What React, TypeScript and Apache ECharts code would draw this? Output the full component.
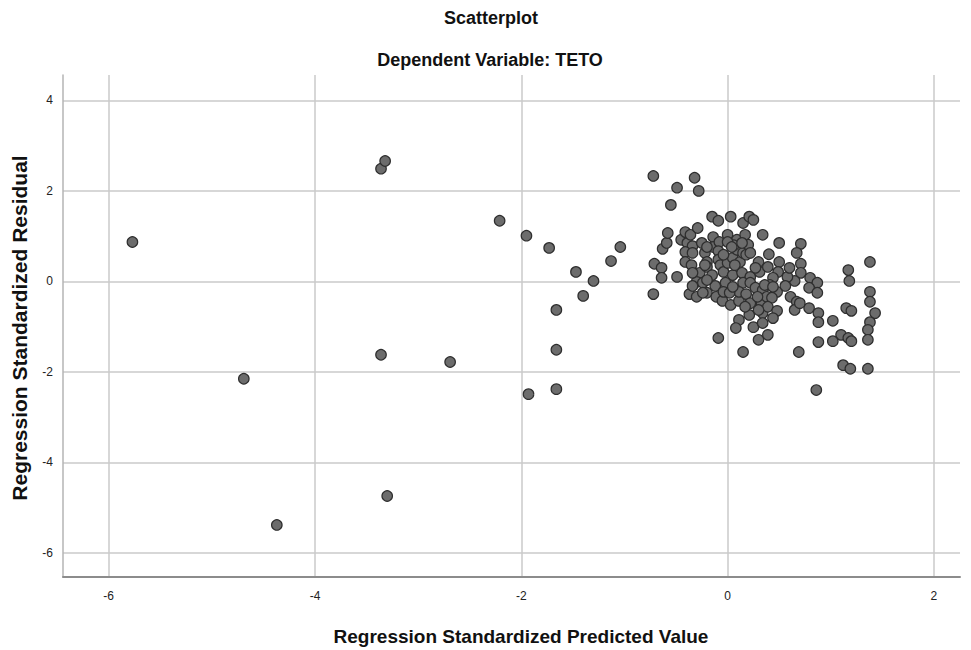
import React, { useEffect, useRef } from "react";
import * as echarts from "echarts";

const chartTitle = "Scatterplot";
const chartSubtitle = "Dependent Variable: TETO";
const xAxisTitle = "Regression Standardized Predicted Value";
const yAxisTitle = "Regression Standardized Residual";

// Regression standardized predicted values (x)
const predicted: number[] = [
  -5.77, -4.69, -4.37, -3.36, -3.32, -3.36, -3.30, -2.69, -2.21, -1.95,
  -1.93, -1.73, -1.66, -1.66, -1.66, -1.47, -1.40, -1.30, -1.13, -1.04,
  -0.72, -0.32, -0.49, -0.28, -0.55, -0.71, -0.72, -0.64, -0.64, -0.63,
  -0.59, -0.58, -0.49, -0.45, -0.41, -0.39, -0.36, -0.34, -0.41, -0.34,
  -0.41, -0.35, -0.29, -0.27, -0.22, -0.20, -0.20, -0.15, -0.09, -0.14,
  -0.14, -0.08, -0.09, -0.09, -0.07, -0.15, -0.04, 0.00, 0.03, 0.00,
  0.05, 0.05, 0.09, 0.09, 0.12, 0.14, 0.15, 0.15, 0.17, 0.18,
  0.20, 0.21, 0.25, 0.22, 0.22, 0.30, 0.31, 0.34, -0.30, -0.24,
  -0.12, -0.02, 0.15, 0.22, -0.37, -0.34, -0.30, -0.20, -0.11, -0.05,
  -0.04, 0.03, 0.11, 0.11, 0.18, 0.22, 0.27, 0.33, 0.33, 0.11,
  0.08, 0.21, 0.25, 0.34, 0.34, -0.09, 0.30, 0.15, 0.39, 0.50,
  0.71, 0.67, 0.71, 0.50, 0.39, 0.49, 0.71, 1.17, 1.38, 1.18,
  0.65, 0.80, 0.87, 0.44, 0.41, 0.48, 0.34, 0.38, 0.43, 0.39,
  0.48, 0.44, 0.61, 0.67, 0.65, 0.79, 0.87, 0.79, 0.88, 0.88,
  0.88, 0.69, 1.02, 1.15, 1.20, 1.10, 1.02, 1.17, 1.20, 1.12,
  1.19, 0.86, 1.38, 1.38, 1.43, 1.38, 1.36, 1.36, 1.36, 0.70,
  -0.20, 0.27, 0.06, -0.25, 0.40, 0.58, 0.56, 0.60,
  -0.20, 0.00, 0.04, -0.22, -0.04, 0.07, 0.14, -0.34, -0.24, 0.02,
  0.05, 0.17, 0.30, 0.29, 0.36, 0.44,
];

// Regression standardized residuals (y)
const residual: number[] = [
  0.87, -2.15, -5.38, 2.49, 2.66, -1.62, -4.74, -1.78, 1.34, 1.01,
  -2.49, 0.74, -0.63, -1.51, -2.38, 0.21, -0.32, 0.01, 0.45, 0.76,
  2.33, 2.29, 2.07, 2.00, 1.69, 0.39, -0.28, 0.30, 0.08, 0.72,
  0.85, 1.07, 0.10, 0.92, 1.09, 0.85, 1.03, 0.78, 0.65, 0.63,
  0.43, 0.36, 1.18, 0.19, 0.63, 0.43, 0.32, 1.43, 1.34, 0.98,
  0.76, 0.87, 0.67, 0.48, 0.36, 0.14, 0.21, 0.41, 1.43, 1.03,
  0.52, 0.14, 0.92, 0.70, 0.43, 0.19, 1.29, 0.63, 1.03, 0.59,
  0.81, 1.43, 1.36, 0.63, 0.10, 0.43, 0.21, 1.03, -0.01, -0.03,
  -0.10, -0.03, -0.03, -0.03, -0.28, -0.10, -0.34, -0.25, -0.34, -0.43,
  -0.23, -0.52, -0.43, -0.23, -0.28, -0.48, -0.14, -0.30, -0.48, -0.85,
  -1.03, -0.74, -1.01, -0.70, -0.92, -1.25, -1.29, -1.56, -1.18, 0.85,
  0.83, 0.63, 0.39, 0.43, 0.32, 0.21, 0.19, 0.25, 0.43, 0.01,
  0.01, 0.08, -0.03, 0.08, -0.08, -0.23, -0.19, -0.34, -0.36, -0.56,
  -0.65, -0.81, -0.34, -0.45, -0.63, -0.14, -0.25, -0.59, -0.70, -0.90,
  -1.34, -1.56, -0.87, -0.59, -0.65, -1.18, -1.32, -1.25, -1.32, -1.85,
  -1.93, -2.40, -0.23, -0.45, -0.70, -0.90, -1.07, -1.29, -1.93, -0.48,
  0.03, 0.30, 0.80, 0.85, 0.60, 0.10, -0.10, 0.30,
  0.76, 0.87, 0.76, 0.36, 0.59, 0.36, 0.85, 0.19, -0.25, -0.25,
  -0.12, -0.56, -0.63, -0.34, -0.08, -0.12,
];

const xMin = -6.443;
const xMax = 2.253;
const yMin = -6.53;
const yMax = 4.56;

export default function App() {
  const ref = useRef<HTMLDivElement>(null);

  useEffect(() => {
    if (!ref.current) return;
    const chart = echarts.init(ref.current, null, { renderer: "svg" });
    const points = predicted.map((x, i) => [x, residual[i]]);
    const intLabel = (v: number) =>
      Math.abs(v - Math.round(v)) < 1e-6 ? String(Math.round(v)) : "";

    chart.setOption({
      animation: false,
      backgroundColor: "#ffffff",
      grid: { left: 63, top: 75, width: 897, height: 502, containLabel: false },
      xAxis: {
        type: "value",
        min: xMin,
        max: xMax,
        minInterval: 2,
        maxInterval: 2,
        axisLine: { show: true, onZero: false, lineStyle: { color: "#8c8c8c", width: 2 } },
        axisTick: { show: false },
        axisLabel: {
          formatter: intLabel,
          color: "#222",
          fontSize: 12,
          fontFamily: "Liberation Sans, Arial, sans-serif",
          margin: 13,
          showMinLabel: false,
          showMaxLabel: false,
        },
        splitLine: {
          show: true,
          showMinLine: false,
          showMaxLine: false,
          lineStyle: { color: "#cacaca", width: 1.5 },
        },
      },
      yAxis: {
        type: "value",
        min: yMin,
        max: yMax,
        minInterval: 2,
        maxInterval: 2,
        axisLine: { show: true, onZero: false, lineStyle: { color: "#b4b4b4", width: 1.5 } },
        axisTick: { show: false },
        axisLabel: {
          formatter: intLabel,
          color: "#222",
          fontSize: 12,
          fontFamily: "Liberation Sans, Arial, sans-serif",
          margin: 10,
          showMinLabel: false,
          showMaxLabel: false,
        },
        splitLine: {
          show: true,
          showMinLine: false,
          showMaxLine: false,
          lineStyle: { color: "#cacaca", width: 1.5 },
        },
      },
      graphic: [
        {
          type: "text",
          x: 491,
          y: 18,
          style: {
            text: chartTitle,
            fontSize: 18,
            fontWeight: "bold",
            fontFamily: "Liberation Sans, Arial, sans-serif",
            fill: "#111",
            textAlign: "center",
            textVerticalAlign: "middle",
          },
        },
        {
          type: "text",
          x: 490,
          y: 60,
          style: {
            text: chartSubtitle,
            fontSize: 18,
            fontWeight: "bold",
            fontFamily: "Liberation Sans, Arial, sans-serif",
            fill: "#111",
            textAlign: "center",
            textVerticalAlign: "middle",
          },
        },
        {
          type: "text",
          x: 521,
          y: 636,
          style: {
            text: xAxisTitle,
            fontSize: 19,
            fontWeight: "bold",
            fontFamily: "Liberation Sans, Arial, sans-serif",
            fill: "#111",
            textAlign: "center",
            textVerticalAlign: "middle",
          },
        },
        {
          type: "text",
          x: 19,
          y: 328,
          rotation: Math.PI / 2,
          style: {
            text: yAxisTitle,
            fontSize: 21,
            fontWeight: "bold",
            fontFamily: "Liberation Sans, Arial, sans-serif",
            fill: "#111",
            textAlign: "center",
            textVerticalAlign: "middle",
          },
        },
      ],
      series: [
        {
          type: "scatter",
          data: points,
          symbol: "circle",
          symbolSize: 10.5,
          itemStyle: {
            color: "#6c6c6c",
            borderColor: "#2e2e2e",
            borderWidth: 1.2,
            opacity: 1,
          },
        },
      ],
    });

    return () => {
      chart.dispose();
    };
  }, []);

  return (
    <div
      ref={ref}
      style={{ position: "fixed", left: 0, top: 0, width: 971, height: 650 }}
    />
  );
}
